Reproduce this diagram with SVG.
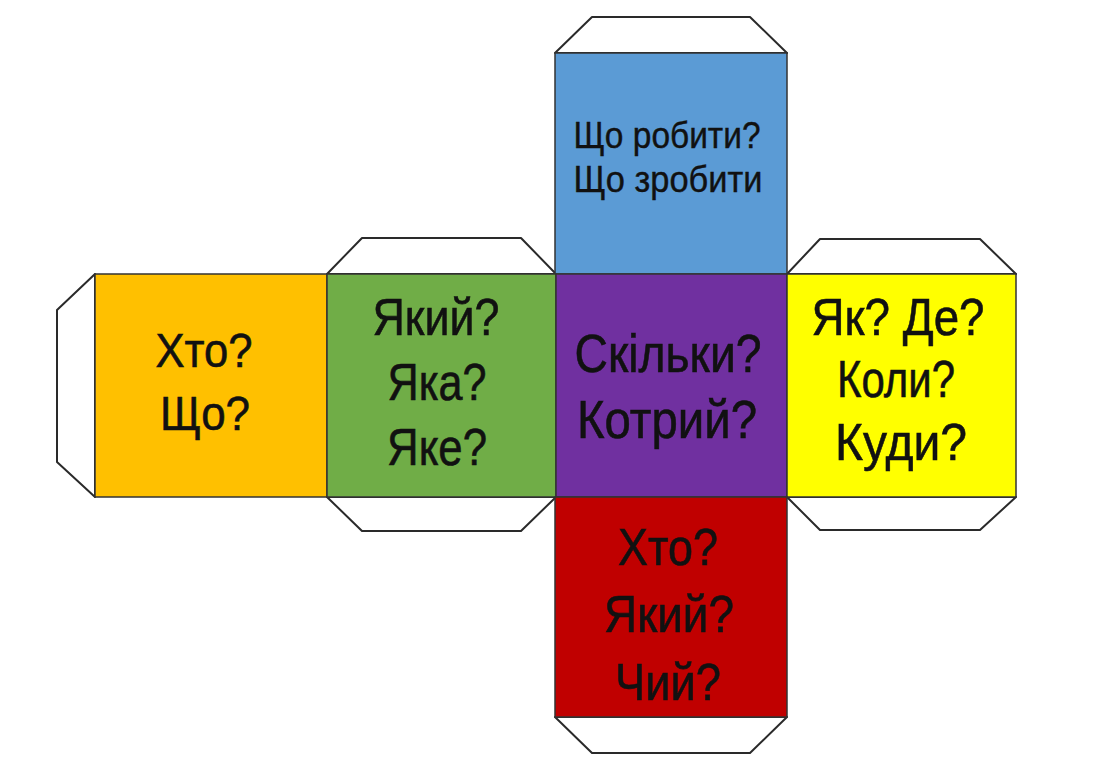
<svg xmlns="http://www.w3.org/2000/svg" width="1100" height="771" viewBox="0 0 1100 771">
<style>
.tab{fill:#fff;stroke:#2a2a2a;stroke-width:2;stroke-linejoin:round}
.face{stroke:#333;stroke-width:1.5}
.t{font-family:"Liberation Sans",Arial,sans-serif;font-size:52px;fill:#111;stroke:#111;stroke-width:0.6;text-anchor:middle}
.s{font-size:36px;stroke-width:0.4}
</style>
<rect width="1100" height="771" fill="#fff"/>
<g id="tabs">
<polygon class="tab" points="555,53 592,17 750,17 787,53"/>
<polygon class="tab" points="327,274 362,238 521,238 556,274"/>
<polygon class="tab" points="787,274 820,239 980,239 1016,274"/>
<polygon class="tab" points="327,497 362,531 521,531 556,497"/>
<polygon class="tab" points="787,497 820,530 980,530 1016,497"/>
<polygon class="tab" points="555,717 592,753 750,753 787,717"/>
<polygon class="tab" points="95,274 57,310 57,462 95,497"/>
</g>
<g id="blue">
<rect class="face" x="555" y="53" width="232" height="221" fill="#5B9BD5"/>
<text class="t s" x="667" y="148" textLength="187" lengthAdjust="spacingAndGlyphs">Що робити?</text>
<text class="t s" x="668" y="192" textLength="189" lengthAdjust="spacingAndGlyphs">Що зробити</text>
</g>
<g id="orange">
<rect class="face" x="95" y="274" width="232" height="223" fill="#FFC000"/>
<text class="t" x="204" y="367" style="font-size:48px" textLength="97" lengthAdjust="spacingAndGlyphs">Хто?</text>
<text class="t" x="205" y="430" style="font-size:48px" textLength="90" lengthAdjust="spacingAndGlyphs">Що?</text>
</g>
<g id="green">
<rect class="face" x="327" y="274" width="229" height="223" fill="#70AD47"/>
<text class="t" x="436" y="335" textLength="127" lengthAdjust="spacingAndGlyphs">Який?</text>
<text class="t" x="437" y="400" textLength="99" lengthAdjust="spacingAndGlyphs">Яка?</text>
<text class="t" x="437" y="465" textLength="100" lengthAdjust="spacingAndGlyphs">Яке?</text>
</g>
<g id="purple">
<rect class="face" x="556" y="274" width="231" height="223" fill="#7030A0"/>
<text class="t" x="668" y="372" style="font-size:54px" textLength="187" lengthAdjust="spacingAndGlyphs">Скільки?</text>
<text class="t" x="667" y="438" style="font-size:54px" textLength="180" lengthAdjust="spacingAndGlyphs">Котрий?</text>
</g>
<g id="yellow">
<rect class="face" x="787" y="274" width="229" height="223" fill="#FFFF00"/>
<text class="t" x="898" y="335" textLength="173" lengthAdjust="spacingAndGlyphs">Як? Де?</text>
<text class="t" x="896" y="397" textLength="118" lengthAdjust="spacingAndGlyphs">Коли?</text>
<text class="t" x="901" y="460" textLength="132" lengthAdjust="spacingAndGlyphs">Куди?</text>
</g>
<g id="red">
<rect class="face" x="555" y="497" width="232" height="220" fill="#C00000"/>
<text class="t" x="668" y="565" textLength="100" lengthAdjust="spacingAndGlyphs">Хто?</text>
<text class="t" x="669" y="632" textLength="130" lengthAdjust="spacingAndGlyphs">Який?</text>
<text class="t" x="668" y="700" textLength="106" lengthAdjust="spacingAndGlyphs">Чий?</text>
</g>
</svg>
